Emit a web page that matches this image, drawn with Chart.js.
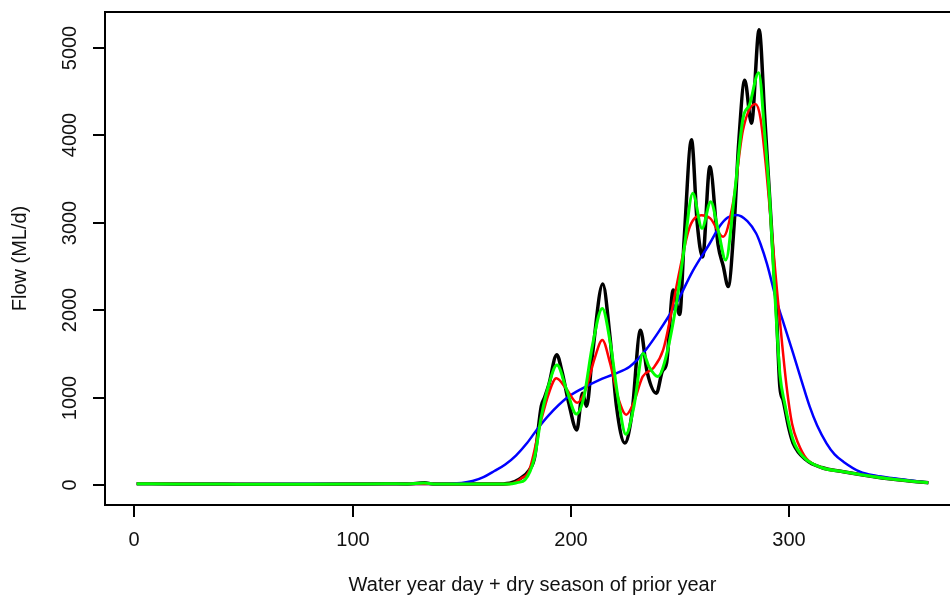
<!DOCTYPE html>
<html>
<head>
<meta charset="utf-8">
<script src="https://cdn.jsdelivr.net/npm/chart.js@4"></script>
<style>
  body { margin: 0; background: #fff; }
  #wrap { width: 950px; height: 597px; overflow: hidden; }
</style>
</head>
<body>
<div id="wrap"><canvas id="flow" width="962" height="597"></canvas></div>
<script>
// observed daily flow (black)
const obsDay  = [1, 20, 40, 60, 80, 100, 115, 125, 133, 137, 150, 165, 172, 176, 181, 183.5, 186.5, 188, 190, 193.6, 196, 199, 202.8, 205.4, 207.3, 210, 214.7, 218, 221, 224.8, 228, 232, 235, 239.3, 242, 244, 247, 250, 252, 255.4, 258, 260.5, 263.8, 267.6, 270, 272.2, 275, 277, 279.8, 282.9, 286.4, 289, 291.3, 293, 294.3, 295.9, 297.4, 300, 302, 308, 315, 325, 348, 364];
const obsFlow = [15, 12, 10, 8, 8, 10, 14, 12, 25, 12, 10, 10, 20, 60, 170, 320, 900, 1000, 1150, 1490, 1300, 950, 630, 1050, 900, 1500, 2300, 1700, 900, 480, 800, 1770, 1300, 1050, 1300, 1400, 2230, 1950, 2800, 3950, 3000, 2610, 3640, 2745, 2500, 2270, 3000, 3900, 4630, 4140, 5210, 4200, 3260, 2550, 2000, 1125, 970, 650, 477, 286, 200, 152, 65, 26];

// heavy smoothing (red)
const redDay  = [1, 40, 80, 120, 150, 165, 170, 173.5, 177, 181, 186.5, 190, 193.4, 198, 203, 207, 211, 214.5, 218, 222, 225.5, 229, 233, 237.8, 242.4, 246, 250, 254.6, 260, 264, 269.9, 274.4, 279, 284.7, 287, 289.7, 292, 294.5, 297, 299, 301.5, 304.3, 308, 315, 325, 348, 364];
const redFlow = [15, 10, 8, 12, 10, 10, 10, 20, 70, 170, 744, 1050, 1220, 1100, 942, 1100, 1450, 1660, 1400, 980, 805, 950, 1240, 1335, 1545, 1950, 2460, 2955, 3085, 3050, 2840, 3223, 4061, 4360, 4200, 3600, 2950, 2250, 1600, 1125, 700, 477, 305, 200, 152, 65, 26];

// light smoothing (green)
const greenDay  = [1, 20, 40, 60, 80, 100, 115, 125, 133, 137, 150, 165, 172, 176, 179, 183.5, 186.5, 190, 193.7, 198, 202.6, 206, 210, 214.5, 218, 222, 225.3, 229, 233.2, 236, 240, 243, 248.5, 252, 256, 260.2, 264.2, 267.6, 271.1, 275, 279, 282, 286.2, 289, 291.3, 293, 294.5, 296, 298, 302, 306.6, 315, 325, 348, 364];
const greenFlow = [15, 12, 10, 8, 8, 10, 14, 12, 22, 12, 10, 10, 10, 30, 57, 324, 780, 1150, 1373, 1100, 812, 1000, 1600, 2020, 1650, 950, 580, 900, 1507, 1350, 1240, 1400, 2080, 2700, 3337, 2937, 3240, 2918, 2574, 3300, 4195, 4350, 4718, 4000, 3250, 2450, 1800, 1250, 950, 515, 324, 200, 152, 65, 26];

// seasonal trend (blue)
const blueDay  = [1, 50, 100, 130, 145, 150, 155, 160, 165, 170, 175, 180, 185, 190, 198, 205, 213, 220, 227, 233, 240, 248.5, 256, 263.8, 268.3, 272, 276, 281, 285, 287, 290, 294.3, 298, 302, 306, 309.6, 313, 317.3, 321, 325, 332.6, 340, 348, 364];
const blueFlow = [15, 10, 10, 12, 15, 22, 45, 90, 160, 235, 340, 480, 650, 800, 992, 1100, 1200, 1270, 1354, 1500, 1740, 2080, 2450, 2766, 2960, 3060, 3090, 3020, 2880, 2760, 2530, 2117, 1820, 1507, 1180, 896, 680, 477, 350, 267, 152, 105, 77, 26];

const xTicks = [0, 100, 200, 300];
const yTicks = [0, 1000, 2000, 3000, 4000, 5000];
const xTitle = 'Water year day + dry season of prior year';
const yTitle = 'Flow (ML/d)';

const pts = (xs, ys) => xs.map((x, i) => ({ x: x, y: ys[i] }));
const FONT = '20px "Liberation Sans", Arial, sans-serif';

const rAxes = {
  id: 'rAxes',
  afterDraw(chart) {
    const ctx = chart.ctx;
    const a = chart.chartArea;
    const xs = chart.scales.x, ys = chart.scales.y;
    ctx.save();
    ctx.strokeStyle = '#000';
    ctx.lineWidth = 2;
    ctx.strokeRect(a.left, a.top, a.right - a.left, a.bottom - a.top);

    ctx.fillStyle = '#111';
    ctx.font = FONT;
    // x axis
    ctx.textAlign = 'center';
    ctx.textBaseline = 'alphabetic';
    xTicks.forEach(v => {
      const px = Math.round(xs.getPixelForValue(v));
      ctx.beginPath();
      ctx.moveTo(px, a.bottom);
      ctx.lineTo(px, a.bottom + 12);
      ctx.stroke();
      ctx.fillText(String(v), px, 546);
    });
    ctx.fillText(xTitle, (a.left + a.right) / 2, 591);

    // y axis
    yTicks.forEach(v => {
      const py = Math.round(ys.getPixelForValue(v));
      ctx.beginPath();
      ctx.moveTo(a.left, py);
      ctx.lineTo(a.left - 12, py);
      ctx.stroke();
      ctx.save();
      ctx.translate(76, py);
      ctx.rotate(-Math.PI / 2);
      ctx.fillText(String(v), 0, 0);
      ctx.restore();
    });
    ctx.save();
    ctx.translate(26, (a.top + a.bottom) / 2);
    ctx.rotate(-Math.PI / 2);
    ctx.fillText(yTitle, 0, 0);
    ctx.restore();
    ctx.restore();
  }
};

const line = (label, data, color, width, order) => ({
  label, data,
  borderColor: color,
  borderWidth: width,
  pointRadius: 0,
  fill: false,
  cubicInterpolationMode: 'monotone',
  order
});

new Chart(document.getElementById('flow'), {
  type: 'line',
  data: {
    datasets: [
      line('green', pts(greenDay, greenFlow), '#00ff00', 3, 1),
      line('red', pts(redDay, redFlow), '#ff0000', 2.5, 2),
      line('blue', pts(blueDay, blueFlow), '#0000ff', 2.5, 3),
      line('observed', pts(obsDay, obsFlow), '#000000', 3.5, 4)
    ]
  },
  options: {
    responsive: false,
    animation: false,
    devicePixelRatio: 1,
    layout: { padding: { left: 105, top: 12, right: 2, bottom: 92 } },
    plugins: { legend: { display: false }, tooltip: { enabled: false } },
    scales: {
      x: { type: 'linear', min: -13.52, max: 378.5, display: false },
      y: { type: 'linear', min: -229, max: 5412, display: false }
    }
  },
  plugins: [rAxes]
});
</script>
</body>
</html>
